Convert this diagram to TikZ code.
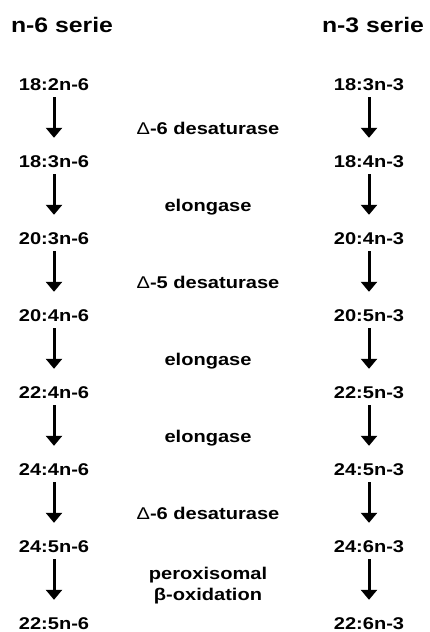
\documentclass[tikz,border=0pt]{standalone}
\usepackage{fontspec}
\setmainfont{Liberation Sans}[FakeStretch=1.18]
\usetikzlibrary{arrows.meta}
\begin{document}
\begin{tikzpicture}[x=1pt,y=-1pt,
  title/.style={font=\fontsize{21}{24}\selectfont\bfseries, inner sep=0pt, anchor=base},
  lab/.style={font=\fontsize{17}{20}\selectfont\bfseries, inner sep=0pt, text height=12pt, text depth=0pt, anchor=center},
  enz/.style={font=\fontsize{17}{21}\selectfont\bfseries, inner sep=0pt, anchor=base, align=center},
  arr/.style={line width=3pt, -{Triangle[width=16pt,length=10pt]}, shorten <=7pt, shorten >=17pt}]
\useasboundingbox (0,0) rectangle (430,632);
\node[title] (t6) at (62,32) {n-6 serie};
\node[title] (t3) at (373,32) {n-3 serie};
\foreach \k/\a/\b in {0/18:2n-6/18:3n-3, 1/18:3n-6/18:4n-3, 2/20:3n-6/20:4n-3, 3/20:4n-6/20:5n-3, 4/22:4n-6/22:5n-3, 5/24:4n-6/24:5n-3, 6/24:5n-6/24:6n-3, 7/22:5n-6/22:6n-3}{
  \node[lab] (L\k) at (54,84+77*\k) {\a};
  \node[lab] (R\k) at (369,84+77*\k) {\b};
}
\foreach \k [evaluate=\k as \n using int(\k+1)] in {0,...,6}{
  \draw[arr] (L\k.south) -- (L\n.north);
  \draw[arr] (R\k.south) -- (R\n.north);
}
\node[enz] (e1) at (208,84+50) {{\mdseries Δ}-6 desaturase};
\node[enz] (e2) at (208,161+50) {elongase};
\node[enz] (e3) at (208,238+50) {{\mdseries Δ}-5 desaturase};
\node[enz] (e4) at (208,315+50) {elongase};
\node[enz] (e5) at (208,392+50) {elongase};
\node[enz] (e6) at (208,469+50) {{\mdseries Δ}-6 desaturase};
\node[enz, anchor=center] (e7) at (208,586) {peroxisomal\\β-oxidation};
\end{tikzpicture}
\end{document}
